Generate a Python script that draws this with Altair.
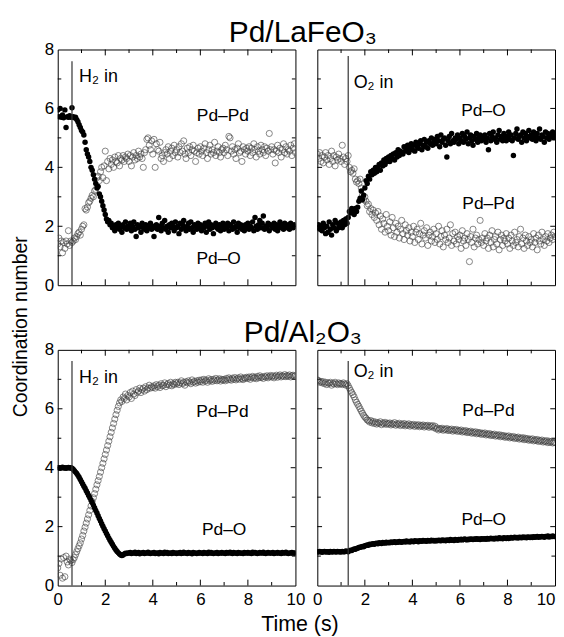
import altair as alt
import pandas as pd

FONT = "Liberation Sans"
STEP = 0.05

# ---- Pd/LaFeO3, H2 in (top-left) ----
la_h2_pdo = [
    5.95, 5.72, 6.0, 5.7, 5.78, 5.68, 5.95, 5.35, 5.72, 5.7, 5.75, 5.7, 6.02, 5.72, 5.68, 5.7, 5.62, 5.55, 5.45, 5.35,
    5.25, 5.2, 5.1, 4.85, 4.6, 4.45, 4.35, 4.2, 4.0, 3.9, 3.75, 3.6, 3.45, 3.3, 3.35, 3.1, 3.0, 2.85, 2.7, 2.55,
    2.4, 2.25, 2.15, 2.2, 2.05, 2.1, 1.95, 2.0, 1.85, 2.05, 1.95, 2.1, 1.9, 2.0, 1.8, 2.05, 1.95, 2.15, 1.9, 2.0,
    1.95, 2.1, 1.85, 2.0, 2.15, 1.9, 1.65, 2.05, 1.95, 2.0, 1.8, 2.1, 1.95, 1.9, 2.05, 1.85, 2.0, 1.95, 2.1, 1.9,
    2.0, 1.65, 1.95, 2.05, 1.9, 2.3, 2.0, 1.85, 2.1, 1.95, 2.2, 1.9, 2.0, 1.8, 2.05, 1.95, 2.1, 2.0, 1.85, 2.15,
    1.95, 2.0, 1.75, 2.1, 1.9, 2.05, 2.2, 1.95, 1.85, 2.0, 2.1, 1.9, 2.15, 1.95, 1.8, 2.05, 2.0, 1.9, 2.1, 1.95,
    2.05, 1.85, 2.0, 1.95, 2.1, 1.8, 2.0, 2.15, 1.9, 2.05, 1.95, 1.75, 2.0, 2.1, 1.95, 1.9, 2.05, 1.85, 2.0, 2.1,
    1.9, 2.0, 1.95, 2.1, 1.85, 2.05, 2.0, 1.9, 2.15, 1.95, 2.0, 1.8, 2.1, 1.95, 2.05, 1.9, 2.0, 1.85, 2.05, 1.95,
    2.1, 1.9, 2.0, 1.95, 2.15, 1.85, 2.3, 2.0, 1.9, 2.05, 2.2, 1.95, 2.1, 2.35, 1.9, 2.0, 1.95, 2.1, 1.85, 2.05,
    2.0, 1.95, 2.1, 1.9, 2.05, 1.85, 2.0, 2.15, 1.95, 2.05, 1.9, 2.1, 2.0, 1.95, 2.05, 1.9, 2.1, 2.0, 1.95, 2.05, 2.0,
]
la_h2_pdpd = [
    1.4, 1.6, 1.3, 1.5, 1.1, 1.45, 1.25, 1.5, 1.4, 1.85, 1.35, 1.5, 1.45, 1.5, 1.6, 1.55, 1.65, 1.75, 1.8, 1.7,
    1.9, 2.0, 2.05, 2.6, 2.55, 2.65, 2.8, 2.85, 2.95, 3.05, 3.0, 3.2, 3.25, 3.65, 3.7, 3.55, 3.85, 4.0, 3.65, 4.05,
    4.55, 3.55, 4.2, 3.95, 4.3, 4.1, 4.25, 4.0, 4.35, 4.2, 4.15, 4.4, 4.05, 4.3, 4.25, 4.4, 4.2, 4.35, 4.3, 4.45,
    4.2, 4.4, 4.05, 4.35, 4.5, 4.25, 4.4, 4.3, 4.55, 4.35, 4.45, 4.3, 4.0, 4.5, 4.6, 4.95, 5.0, 4.75, 4.6, 4.9,
    4.45, 4.95, 4.0, 4.8, 4.6, 4.55, 4.85, 4.3, 4.4, 4.2, 4.5, 4.6, 4.45, 4.7, 4.3, 4.55, 4.65, 4.4, 4.75, 4.5,
    4.6, 4.35, 4.7, 4.5, 4.8, 4.55, 4.9, 4.45, 4.3, 4.65, 4.5, 4.7, 4.4, 4.6, 4.75, 4.55, 4.2, 4.5, 4.65, 4.45,
    4.7, 4.55, 4.4, 4.65, 4.8, 4.5, 4.3, 4.6, 4.75, 4.45, 4.6, 4.5, 4.85, 4.4, 4.55, 4.7, 4.5, 4.35, 4.6, 4.65,
    4.5, 4.75, 4.6, 4.4, 5.05, 5.0, 4.55, 4.7, 4.45, 4.6, 4.3, 4.65, 4.8, 4.5, 4.55, 4.2, 4.7, 4.6, 4.45, 4.65,
    4.55, 4.7, 4.4, 4.65, 4.5, 4.8, 4.6, 4.35, 4.7, 4.55, 4.45, 4.75, 4.6, 4.5, 4.7, 4.4, 4.65, 4.55, 5.15, 4.6,
    4.7, 4.45, 4.6, 4.15, 4.55, 4.75, 4.5, 4.65, 4.35, 4.6, 4.8, 4.5, 4.7, 4.45, 4.6, 4.55, 4.75, 4.4, 4.65, 4.8, 4.5,
]

# ---- Pd/LaFeO3, O2 in (top-right) ----
la_o2_pdo = [
    1.95, 2.05, 1.9, 2.0, 1.85, 2.1, 1.95, 1.75, 2.0, 1.8, 2.15, 1.9, 1.7, 2.05, 1.95, 2.2, 1.85, 2.1, 1.95, 2.05,
    2.15, 1.95, 2.2, 2.05, 2.25, 2.1, 2.3, 2.5, 2.45, 2.6, 2.55, 2.4, 2.6, 2.5, 2.65, 2.85, 2.95, 3.2, 2.9, 3.05,
    3.3, 3.55, 3.45, 3.7, 3.6, 3.85, 3.75, 3.9, 3.8, 4.0, 3.85, 3.95, 4.1, 3.9, 4.15, 4.05, 4.25, 4.1, 4.3, 4.2,
    4.35, 4.2, 4.4, 4.3, 4.45, 4.25, 4.5, 4.35, 4.6, 4.4, 4.55, 4.5, 4.45, 4.7, 4.55, 4.6, 4.75, 4.5, 4.65, 4.8,
    4.6, 4.75, 4.55, 4.85, 4.7, 4.65, 4.8, 4.9, 4.6, 4.75, 4.95, 4.7, 4.85, 4.65, 4.9, 4.8, 5.0, 4.75, 4.85, 4.95,
    4.8, 5.05, 4.9, 4.7, 5.1, 4.85, 4.95, 5.0, 4.75, 4.35, 4.9, 5.05, 4.8, 5.15, 4.9, 4.85, 5.0, 4.95, 5.1, 4.8,
    5.0, 4.9, 5.15, 4.85, 5.05, 4.95, 5.2, 4.8, 5.0, 5.1, 4.9, 4.75, 5.05, 4.95, 5.15, 4.85, 5.0, 5.1, 4.9, 5.05,
    4.95, 5.1, 4.85, 5.0, 4.6, 5.15, 4.9, 5.05, 5.2, 4.95, 5.0, 4.85, 5.1, 5.25, 4.95, 5.05, 4.9, 5.15, 5.0, 4.9,
    5.05, 5.2, 4.95, 5.1, 4.9, 4.4, 5.0, 5.15, 5.3, 4.95, 5.05, 5.1, 4.85, 5.2, 5.0, 5.15, 4.9, 5.05, 5.25, 5.0,
    5.1, 4.95, 5.2, 5.05, 4.9, 5.15, 5.0, 5.3, 4.95, 5.1, 5.05, 4.85, 5.2, 5.0, 5.15, 4.95, 5.1, 5.05, 5.2, 5.0, 5.1,
]
la_o2_pdpd = [
    4.45, 4.3, 4.5, 4.2, 4.4, 4.15, 4.35, 4.5, 4.25, 4.4, 4.1, 4.3, 4.55, 4.2, 4.4, 4.05, 4.35, 4.25, 4.45, 4.3,
    4.2, 4.75, 4.35, 4.1, 4.3, 4.2, 4.4, 4.0, 3.85, 3.9, 3.8, 3.95, 3.6, 3.5, 3.55, 3.45, 3.6, 3.3, 3.05, 2.9,
    3.0, 2.85, 2.7, 2.75, 2.5, 2.6, 2.4, 2.55, 2.3, 2.45, 2.2, 2.5, 2.05, 2.35, 1.9, 2.25, 2.1, 1.8, 2.4, 2.0,
    1.85, 2.15, 1.7, 2.3, 1.95, 1.65, 2.1, 1.8, 2.0, 1.6, 1.9, 2.2, 1.75, 1.55, 2.05, 1.85, 1.7, 1.95, 1.5, 1.8,
    1.65, 2.0, 1.45, 1.8, 1.9, 1.55, 1.75, 2.1, 1.4, 1.7, 1.85, 1.6, 1.95, 1.35, 1.7, 1.8, 1.5, 1.65, 1.9, 1.45,
    1.75, 1.55, 2.0, 1.4, 1.65, 1.85, 1.3, 1.7, 1.55, 1.9, 1.45, 1.6, 2.05, 1.35, 1.75, 1.5, 1.8, 1.4, 1.65, 1.55,
    1.7, 1.25, 1.85, 1.5, 1.6, 1.35, 1.75, 1.55, 0.8, 1.65, 1.45, 1.9, 1.3, 1.6, 1.7, 1.4, 1.55, 2.2, 1.45, 1.6,
    1.35, 1.75, 1.5, 1.6, 1.25, 1.7, 1.45, 1.85, 1.3, 1.55, 1.65, 1.4, 1.8, 1.2, 1.55, 1.7, 1.35, 1.6, 1.5, 1.75,
    1.4, 1.6, 1.25, 1.7, 1.5, 1.35, 1.8, 1.45, 1.55, 1.3, 1.65, 1.9, 1.4, 1.6, 1.25, 1.7, 1.5, 1.35, 1.65, 1.45,
    1.55, 1.3, 1.75, 1.45, 1.6, 1.2, 1.7, 1.5, 1.4, 1.8, 1.55, 1.35, 1.65, 1.5, 1.75, 1.45, 1.6, 1.7, 1.55, 1.8, 1.65,
]

# ---- Pd/Al2O3, H2 in (bottom-left) ----
al_h2_pdo = [
    4.0, 4.0, 3.98, 4.0, 4.02, 3.99, 4.0, 3.98, 4.0, 4.01, 3.99, 4.0, 3.98, 3.95, 3.9, 3.85, 3.8, 3.74, 3.68, 3.6,
    3.52, 3.45, 3.37, 3.3, 3.22, 3.14, 3.06, 2.98, 2.9, 2.82, 2.73, 2.64, 2.55, 2.46, 2.37, 2.28, 2.19, 2.1, 2.01, 1.93,
    1.85, 1.77, 1.69, 1.61, 1.54, 1.47, 1.4, 1.33, 1.27, 1.21, 1.16, 1.11, 1.07, 1.04, 1.02, 1.04, 1.07, 1.1, 1.09, 1.11,
    1.1, 1.12, 1.09, 1.11, 1.1, 1.13, 1.09, 1.1, 1.12, 1.08, 1.11, 1.1, 1.12, 1.09, 1.11, 1.1, 1.13, 1.1, 1.09, 1.11,
    1.1, 1.12, 1.09, 1.1, 1.11, 1.08, 1.12, 1.1, 1.11, 1.09, 1.13, 1.1, 1.12, 1.09, 1.1, 1.11, 1.09, 1.12, 1.1, 1.11,
    1.09, 1.11, 1.1, 1.12, 1.09, 1.1, 1.13, 1.1, 1.11, 1.09, 1.12, 1.1, 1.11, 1.08, 1.12, 1.1, 1.11, 1.09, 1.1, 1.12,
    1.1, 1.11, 1.09, 1.12, 1.1, 1.11, 1.09, 1.13, 1.1, 1.12, 1.1, 1.09, 1.11, 1.1, 1.12, 1.09, 1.11, 1.1, 1.12, 1.1,
    1.11, 1.09, 1.12, 1.1, 1.11, 1.13, 1.1, 1.09, 1.12, 1.1, 1.11, 1.09, 1.12, 1.1, 1.11, 1.1, 1.09, 1.12, 1.11, 1.1,
    1.12, 1.1, 1.11, 1.09, 1.13, 1.1, 1.12, 1.11, 1.09, 1.1, 1.12, 1.11, 1.1, 1.13, 1.1, 1.09, 1.11, 1.12, 1.1, 1.11,
    1.1, 1.12, 1.09, 1.11, 1.1, 1.12, 1.1, 1.11, 1.09, 1.12, 1.1, 1.11, 1.13, 1.1, 1.09, 1.11, 1.1, 1.12, 1.1, 1.11, 1.1,
]
al_h2_pdpd = [
    0.6, 0.75, 0.35, 0.9, 0.25, 0.95, 0.3, 1.0, 0.8, 0.7, 0.9, 0.85, 0.78, 0.88, 0.95, 1.05, 1.15, 1.25, 1.35, 1.45,
    1.58, 1.7, 1.85, 1.98, 2.12, 2.26, 2.4, 2.55, 2.7, 2.85, 2.98, 3.12, 3.27, 3.42, 3.56, 3.7, 3.85, 4.0, 4.15, 4.3,
    4.45, 4.6, 4.75, 4.9, 5.05, 5.2, 5.35, 5.5, 5.65, 5.8, 5.95, 6.08, 6.2, 6.3, 6.25, 6.4, 6.35, 6.5, 6.3, 6.45,
    6.4, 6.55, 6.35, 6.6, 6.5, 6.45, 6.65, 6.55, 6.6, 6.7, 6.55, 6.65, 6.7, 6.6, 6.75, 6.65, 6.7, 6.8, 6.7, 6.75,
    6.72, 6.78, 6.7, 6.82, 6.75, 6.8, 6.72, 6.85, 6.78, 6.8, 6.88, 6.75, 6.82, 6.86, 6.8, 6.9, 6.78, 6.85, 6.82, 6.9,
    6.85, 6.9, 6.82, 6.88, 6.95, 6.85, 6.9, 6.8, 6.92, 6.88, 6.95, 6.9, 6.85, 6.98, 6.9, 6.93, 6.87, 6.95, 6.9, 6.97,
    6.92, 6.98, 6.9, 7.0, 6.94, 6.97, 6.9, 7.02, 6.95, 6.99, 6.93, 7.0, 6.96, 7.03, 6.95, 6.98, 7.02, 6.94, 7.0, 6.97,
    7.0, 6.95, 7.03, 6.98, 7.05, 7.0, 6.97, 7.04, 7.0, 7.06, 6.98, 7.02, 7.05, 7.0, 7.08, 7.02, 6.99, 7.05, 7.03, 7.07,
    7.03, 7.08, 7.0, 7.06, 7.1, 7.04, 7.07, 7.02, 7.1, 7.05, 7.12, 7.06, 7.08, 7.03, 7.1, 7.07, 7.12, 7.05, 7.09, 7.13,
    7.08, 7.12, 7.05, 7.1, 7.14, 7.07, 7.11, 7.15, 7.08, 7.12, 7.1, 7.16, 7.09, 7.13, 7.1, 7.15, 7.08, 7.12, 7.14, 7.1, 7.12,
]

# ---- Pd/Al2O3, O2 in (bottom-right) ----
al_o2_pdo = [
    1.15, 1.14, 1.16, 1.15, 1.13, 1.15, 1.16, 1.14, 1.15, 1.15, 1.13, 1.16, 1.15, 1.14, 1.16, 1.15, 1.14, 1.16, 1.15, 1.15,
    1.14, 1.16, 1.15, 1.15, 1.17, 1.16, 1.15, 1.18, 1.2, 1.19, 1.22, 1.24, 1.23, 1.26, 1.27, 1.29, 1.3, 1.31, 1.33, 1.32,
    1.35, 1.36, 1.38, 1.37, 1.4, 1.39, 1.41, 1.42, 1.4, 1.43, 1.44, 1.42, 1.45, 1.44, 1.43, 1.46, 1.45, 1.44, 1.47, 1.45,
    1.46, 1.45, 1.48, 1.46, 1.47, 1.49, 1.46, 1.48, 1.47, 1.5, 1.48, 1.47, 1.49, 1.5, 1.48, 1.51, 1.49, 1.5, 1.48, 1.51,
    1.5, 1.49, 1.52, 1.5, 1.51, 1.49, 1.52, 1.51, 1.5, 1.53, 1.51, 1.52, 1.5, 1.53, 1.52, 1.51, 1.54, 1.52, 1.53, 1.51,
    1.53, 1.52, 1.54, 1.53, 1.52, 1.55, 1.53, 1.54, 1.52, 1.55, 1.54, 1.53, 1.56, 1.54, 1.55, 1.53, 1.56, 1.55, 1.54, 1.56,
    1.55, 1.57, 1.55, 1.56, 1.58, 1.56, 1.55, 1.57, 1.56, 1.58, 1.57, 1.56, 1.58, 1.57, 1.59, 1.57, 1.58, 1.56, 1.59, 1.58,
    1.58, 1.59, 1.57, 1.6, 1.58, 1.59, 1.61, 1.59, 1.6, 1.58, 1.61, 1.6, 1.59, 1.62, 1.6, 1.61, 1.59, 1.62, 1.61, 1.6,
    1.62, 1.6, 1.61, 1.63, 1.61, 1.62, 1.64, 1.62, 1.63, 1.61, 1.64, 1.63, 1.62, 1.65, 1.63, 1.64, 1.62, 1.65, 1.64, 1.63,
    1.65, 1.63, 1.66, 1.64, 1.65, 1.67, 1.64, 1.66, 1.65, 1.67, 1.66, 1.64, 1.67, 1.66, 1.68, 1.65, 1.67, 1.66, 1.68, 1.67, 1.66,
]
al_o2_pdpd = [
    6.98, 6.95, 6.9, 6.93, 6.88, 6.92, 6.85, 6.9, 6.82, 6.88, 6.86, 6.9, 6.8, 6.87, 6.84, 6.9, 6.85, 6.82, 6.88, 6.84,
    6.86, 6.82, 6.88, 6.84, 6.8, 6.85, 6.78, 6.7, 6.62, 6.55, 6.48, 6.4, 6.3, 6.22, 6.15, 6.08, 6.0, 5.92, 5.85, 5.78,
    5.72, 5.68, 5.62, 5.6, 5.55, 5.6, 5.52, 5.57, 5.5, 5.55, 5.48, 5.53, 5.5, 5.56, 5.46, 5.52, 5.49, 5.54, 5.47, 5.51,
    5.48, 5.52, 5.45, 5.5, 5.47, 5.53, 5.44, 5.49, 5.46, 5.51, 5.43, 5.48, 5.45, 5.5, 5.42, 5.47, 5.44, 5.49, 5.41, 5.46,
    5.43, 5.47, 5.4, 5.45, 5.42, 5.46, 5.39, 5.44, 5.41, 5.45, 5.38, 5.43, 5.4, 5.44, 5.37, 5.42, 5.39, 5.43, 5.36, 5.41,
    5.32, 5.35, 5.28, 5.33, 5.3, 5.34, 5.27, 5.31, 5.29, 5.33, 5.26, 5.3, 5.27, 5.31, 5.24, 5.29, 5.26, 5.3, 5.23, 5.27,
    5.24, 5.28, 5.21, 5.25, 5.22, 5.26, 5.19, 5.23, 5.2, 5.24, 5.17, 5.21, 5.18, 5.22, 5.15, 5.2, 5.16, 5.19, 5.13, 5.17,
    5.14, 5.18, 5.11, 5.15, 5.12, 5.16, 5.09, 5.13, 5.1, 5.14, 5.07, 5.11, 5.08, 5.12, 5.05, 5.1, 5.06, 5.09, 5.03, 5.07,
    5.04, 5.08, 5.01, 5.05, 5.02, 5.06, 4.99, 5.03, 5.0, 5.04, 4.97, 5.01, 4.98, 5.02, 4.95, 5.0, 4.96, 4.99, 4.93, 4.97,
    4.94, 4.98, 4.91, 4.95, 4.92, 4.96, 4.89, 4.93, 4.9, 4.94, 4.87, 4.91, 4.88, 4.92, 4.85, 4.9, 4.86, 4.89, 4.84, 4.87, 4.85,
]

# gas switching times and annotation texts
gas_times = {"tl": 0.6, "tr": 1.3, "bl": 0.6, "br": 1.3}
gas_tops = {"tl": 7.6, "tr": 7.78, "bl": 7.62, "br": 7.62}
gas_texts = {"tl": "H₂ in", "tr": "O₂ in", "bl": "H₂ in", "br": "O₂ in"}
gas_text_pos = {"tl": (0.9, 7.06), "tr": (1.53, 6.85), "bl": (0.9, 7.05), "br": (1.53, 7.25)}
series_labels = {
    "tl": [("Pd–Pd", 6.95, 5.74), ("Pd–O", 6.77, 0.9)],
    "tr": [("Pd–O", 6.99, 5.92), ("Pd–Pd", 7.2, 2.77)],
    "bl": [("Pd–Pd", 6.93, 5.9), ("Pd–O", 7.0, 1.9)],
    "br": [("Pd–Pd", 7.2, 5.93), ("Pd–O", 7.0, 2.24)],
}

X_LABELS = [0, 2, 4, 6, 8, 10]
Y_LABELS = [0, 2, 4, 6, 8]
X_TICKS = [1, 2, 3, 4, 5, 6, 7, 8, 9]
Y_TICKS = [1, 2, 3, 4, 5, 6, 7]
X_MAX, Y_MAX = 10, 8

W, H = 239, 237


def tick_frame():
    rows = []
    for v in X_TICKS:
        L = 0.2 if v % 2 == 0 else 0.12
        rows.append(dict(x=v, x2=v, y=0, y2=L))
        rows.append(dict(x=v, x2=v, y=Y_MAX, y2=Y_MAX - L))
    for v in Y_TICKS:
        L = 0.2 if v % 2 == 0 else 0.15
        rows.append(dict(x=0, x2=L, y=v, y2=v))
        rows.append(dict(x=X_MAX, x2=X_MAX - L, y=v, y2=v))
    return pd.DataFrame(rows)


def series_frame(vals):
    return pd.DataFrame({"x": [round(i * STEP, 2) for i in range(len(vals))], "y": vals})


def panel(key, pdo, pdpd, show_x, show_y, last_right=False):
    xs = alt.Scale(domain=[0, X_MAX], nice=False, zero=False)
    ys = alt.Scale(domain=[0, Y_MAX], nice=False, zero=False)
    if show_x:
        xkw = dict(values=X_LABELS, ticks=False, domain=False, grid=False, labelFontSize=17,
                   labelFont=FONT, labelPadding=6, labelFlush=False, title=None, labelColor="black")
        if last_right:
            xkw["labelAlign"] = alt.ExprRef("datum.value == 10 ? 'right' : 'center'")
        xa = alt.Axis(**xkw)
    else:
        xa = None
    if show_y:
        ya = alt.Axis(values=Y_LABELS, ticks=False, domain=False, grid=False, labelFontSize=17,
                      labelFont=FONT, labelPadding=4, labelFlush=False, title=None, labelColor="black")
    else:
        ya = None
    X = lambda f="x": alt.X(f"{f}:Q", scale=xs, axis=xa)
    Y = lambda f="y": alt.Y(f"{f}:Q", scale=ys, axis=ya)

    ticks = alt.Chart(tick_frame()).mark_rule(color="black", strokeWidth=1).encode(
        x=X(), x2="x2:Q", y=Y(), y2="y2:Q")
    open_pts = alt.Chart(series_frame(pdpd)).mark_point(
        shape="circle", filled=False, size=38, stroke="#404040", strokeWidth=0.9, clip=True
    ).encode(x=X(), y=Y())
    dots = alt.Chart(series_frame(pdo)).mark_point(
        shape="circle", filled=True, size=30, color="black", opacity=1, clip=True
    ).encode(x=X(), y=Y())
    gas = pd.DataFrame({"x": [gas_times[key]], "y": [0], "y2": [gas_tops[key]]})
    gas_line = alt.Chart(gas).mark_rule(color="#333333", strokeWidth=1.2).encode(
        x=X(), y=Y(), y2="y2:Q")
    gx, gy = gas_text_pos[key]
    gas_lab = alt.Chart(pd.DataFrame({"x": [gx], "y": [gy], "t": [gas_texts[key]]})).mark_text(
        align="left", baseline="middle", font=FONT, fontSize=18, color="black"
    ).encode(x=X(), y=Y(), text="t:N")
    lab_df = pd.DataFrame(series_labels[key], columns=["t", "x", "y"])
    labs = alt.Chart(lab_df).mark_text(
        align="center", baseline="middle", font=FONT, fontSize=17.5, color="black"
    ).encode(x=X(), y=Y(), text="t:N")
    return alt.layer(ticks, open_pts, dots, gas_line, gas_lab, labs).properties(width=W, height=H)


def row_title(text):
    return alt.TitleParams(text, font=FONT, fontSize=30, fontWeight="normal", color="black",
                           anchor="middle", offset=-8, dx=3)


tl = panel("tl", la_h2_pdo, la_h2_pdpd, False, True)
tr = panel("tr", la_o2_pdo, la_o2_pdpd, False, False)
bl = panel("bl", al_h2_pdo, al_h2_pdpd, True, True)
br = panel("br", al_o2_pdo, al_o2_pdpd, True, False, last_right=True)

top = alt.hconcat(tl, tr, spacing=20, title=row_title("Pd/LaFeO₃"))
bottom = alt.hconcat(bl, br, spacing=6, title=row_title("Pd/Al₂O₃"))
grid = alt.vconcat(top, bottom, spacing=24,
                   title=alt.TitleParams("Time (s)", orient="bottom", anchor="middle", font=FONT,
                                         fontSize=21.5, fontWeight="normal", color="black", offset=6))
chart = alt.hconcat(grid, title=alt.TitleParams("Coordination number", orient="left", anchor="middle",
                                                 font=FONT, fontSize=19.5, fontWeight="normal",
                                                 color="black", offset=12)).properties(
    padding={"left": 3, "top": 8, "right": 0, "bottom": 0}
).configure_view(stroke="black", strokeWidth=1).configure_concat(spacing=0)

chart.save("out.html", embed_options={"renderer": "svg", "actions": False})
